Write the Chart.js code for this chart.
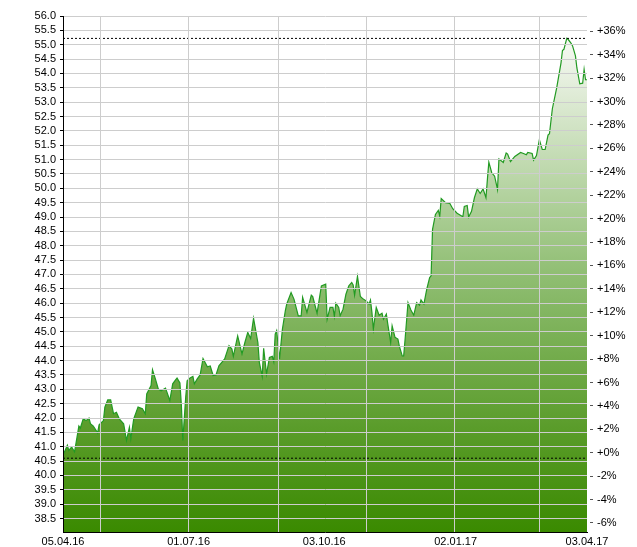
<!DOCTYPE html>
<html>
<head>
<meta charset="utf-8">
<script src="https://cdn.jsdelivr.net/npm/chart.js@4"></script>
<style>
  html, body { margin: 0; padding: 0; background: #fff; }
  canvas { display: block; }
</style>
</head>
<body>
<canvas id="chart" width="637" height="547"></canvas>
<script>
// days since 05.04.16 and closing prices
var days = [0, 3, 4, 6, 8, 11, 12, 14, 16, 18, 19, 21, 24, 25, 28, 29, 31, 33, 35, 37,
  39, 42, 44, 46, 47, 49, 52, 55, 57, 58, 61, 62, 64, 66, 68, 71, 72, 74, 76, 78,
  79, 81, 82, 83, 85, 86, 88, 90, 91, 93, 95, 97, 100, 102, 104, 106, 108, 110, 112, 115,
  117, 118, 121, 124, 126, 128, 130, 132, 135, 136, 138, 139, 141, 143, 145, 146, 147, 148, 150, 152,
  154, 155, 158, 160, 163, 165, 166, 169, 172, 173, 176, 179, 182, 183, 185, 187, 188, 189, 191, 192,
  194, 196, 198, 200, 201, 202, 204, 206, 208, 210, 212, 213, 214, 215, 217, 219, 221, 222, 224, 225,
  227, 228, 230, 232, 233, 235, 236, 237, 239, 241, 243, 245, 247, 248, 250, 252, 254, 255, 256, 258,
  260, 261, 262, 265, 268, 270, 273, 275, 277, 278, 280, 281, 283, 285, 287, 289, 291, 293, 294, 295,
  297, 299, 301, 302, 305, 307, 308, 310, 313, 317, 319, 321, 322, 325, 326, 328, 330, 332, 334, 336,
  337, 339, 342, 345, 346, 347, 349, 350, 352, 353, 355, 356, 358, 360, 361, 362, 363];
var prices = [40.70, 41.05, 40.87, 40.99, 40.82, 41.72, 41.65, 41.97, 41.91, 42.00, 41.80, 41.72, 41.48, 41.76, 41.91, 42.38, 42.63, 42.63, 42.15, 42.20,
  41.97, 41.80, 41.22, 41.68, 41.28, 41.97, 42.38, 42.32, 42.15, 42.84, 43.13, 43.68, 43.36, 43.01, 42.95, 43.04, 42.90, 42.61, 43.19, 43.33,
  43.39, 43.22, 42.44, 41.22, 42.72, 43.30, 43.39, 43.45, 43.19, 43.36, 43.50, 44.07, 43.78, 43.81, 43.48, 43.50, 43.82, 43.94, 44.06, 44.52,
  44.40, 44.15, 44.86, 44.23, 44.63, 44.98, 44.77, 45.47, 44.63, 43.94, 43.45, 44.43, 43.53, 44.11, 44.15, 43.96, 44.92, 45.04, 44.06, 45.10,
  45.73, 45.97, 46.37, 46.14, 45.56, 45.56, 46.20, 45.68, 46.28, 46.23, 45.65, 46.60, 46.66, 45.44, 45.85, 45.85, 45.54, 46.00, 45.85, 45.56,
  45.79, 46.31, 46.60, 46.72, 46.63, 46.28, 46.93, 46.23, 46.14, 46.08, 45.97, 46.11, 45.68, 45.10, 45.85, 45.58, 45.65, 45.44, 45.62, 45.27,
  44.63, 45.21, 44.81, 44.75, 44.50, 44.16, 44.16, 44.75, 46.02, 45.76, 45.58, 46.02, 45.93, 46.11, 45.97, 46.49, 46.89, 46.95, 48.57, 49.09,
  49.23, 49.03, 49.64, 49.50, 49.47, 49.29, 49.13, 49.07, 49.01, 49.37, 49.40, 49.00, 49.20, 49.67, 49.98, 49.82, 49.98, 49.67, 50.31, 50.91,
  50.54, 50.42, 49.96, 51.02, 50.90, 51.23, 51.19, 50.93, 51.11, 51.25, 51.21, 51.17, 51.25, 51.21, 50.98, 51.14, 51.69, 51.35, 51.35, 51.85,
  51.90, 52.77, 53.50, 54.37, 54.80, 54.84, 55.22, 55.18, 55.05, 54.96, 54.61, 54.19, 53.64, 53.66, 54.14, 53.78, 53.78];

// reference levels (dotted lines)
var baseLine = 40.6;
var highLine = Math.max.apply(null, prices);

// axes
var priceMin = 38.03, priceMax = 56.0;
var priceTicks = [];
for (var t = 38.5; t <= 56.0001; t += 0.5) priceTicks.push(Math.round(t * 10) / 10);
var pctMin = -6.77, pctMax = 37.31;
var pctTicks = [-6, -4, -2, 0, 2, 4, 6, 8, 10, 12, 14, 16, 18, 20, 22, 24, 26, 28, 30, 32, 34, 36];
var gridDays = [26, 87, 149, 210, 271, 330];            // 01.05, 01.07, 01.09, 01.11, 01.01, 01.03
var labelDays = [0, 87, 181, 272, 363];
var dateLabels = ['05.04.16', '01.07.16', '03.10.16', '02.01.17', '03.04.17'];

var points = days.map(function (d, i) { return { x: d, y: prices[i] }; });
var lastDay = days[days.length - 1];

var font = { family: '"Liberation Sans", Arial, sans-serif', size: 11 };

function areaGradient(context) {
  var area = context.chart.chartArea;
  if (!area) return '#6aa84f';
  var g = context.chart.ctx.createLinearGradient(0, area.top, 0, area.bottom);
  g.addColorStop(0, '#ffffff');
  g.addColorStop(0.1, '#ebf2e5');
  g.addColorStop(0.5, '#90be73');
  g.addColorStop(0.8, '#5a9c2a');
  g.addColorStop(1, '#3a8a00');
  return g;
}

var ctx = document.getElementById('chart').getContext('2d');

var myChart = new Chart(ctx, {
  type: 'line',
  data: {
    datasets: [{
      data: [{ x: 0, y: highLine }, { x: lastDay, y: highLine }],
      borderColor: '#000',
      borderWidth: 1,
      borderDash: [2, 2],
      pointRadius: 0,
      fill: false
    }, {
      data: [{ x: 0, y: baseLine }, { x: lastDay, y: baseLine }],
      borderColor: '#000',
      borderWidth: 1,
      borderDash: [2, 2],
      pointRadius: 0,
      fill: false
    }, {
      data: points,
      borderColor: '#229a22',
      borderWidth: 1.2,
      backgroundColor: areaGradient,
      pointRadius: 0,
      tension: 0,
      fill: 'start'
    }]
  },
  options: {
    responsive: false,
    animation: false,
    layout: { padding: { top: 16, left: 0, right: 0, bottom: 0 } },
    plugins: { legend: { display: false }, tooltip: { enabled: false } },
    scales: {
      x: {
        type: 'linear',
        min: 0,
        max: lastDay,
        afterBuildTicks: function (scale) {
          var v = gridDays.concat(labelDays).filter(function (d, i, a) { return a.indexOf(d) === i; });
          v.sort(function (a, b) { return a - b; });
          scale.ticks = v.map(function (d) { return { value: d }; });
        },
        afterFit: function (scale) { scale.height = 15; },
        grid: {
          z: 1,
          color: function (c) {
            return c.tick && gridDays.indexOf(c.tick.value) >= 0 ? '#cdcdcd' : 'rgba(0,0,0,0)';
          },
          drawTicks: false
        },
        border: { color: '#000', width: 1, z: 2 },
        ticks: {
          autoSkip: false,
          maxRotation: 0,
          padding: 3,
          color: '#000',
          font: font,
          callback: function (value) {
            var i = labelDays.indexOf(value);
            return i >= 0 ? dateLabels[i] : '';
          }
        }
      },
      y: {
        position: 'left',
        min: priceMin,
        max: priceMax,
        afterBuildTicks: function (scale) {
          scale.ticks = priceTicks.map(function (v) { return { value: v }; });
        },
        afterFit: function (scale) { scale.width = 63; },
        grid: { z: 1, color: '#cdcdcd', tickColor: '#000', tickLength: 3 },
        border: { color: '#000', width: 1, z: 2 },
        ticks: {
          autoSkip: false,
          padding: 4,
          color: '#000',
          font: font,
          callback: function (value) { return value.toFixed(1); }
        }
      },
      pct: {
        position: 'right',
        min: pctMin,
        max: pctMax,
        afterBuildTicks: function (scale) {
          scale.ticks = pctTicks.map(function (v) { return { value: v }; });
        },
        afterFit: function (scale) { scale.width = 50; },
        grid: {
          drawOnChartArea: false,
          tickLength: 7,
          tickColor: '#555',
          tickBorderDash: [0, 3, 3, 10]
        },
        border: { display: false },
        ticks: {
          autoSkip: false,
          padding: 3,
          color: '#000',
          font: font,
          callback: function (value) { return (value >= 0 ? '+' : '') + value + '%'; }
        }
      }
    }
  }
});
</script>
</body>
</html>
